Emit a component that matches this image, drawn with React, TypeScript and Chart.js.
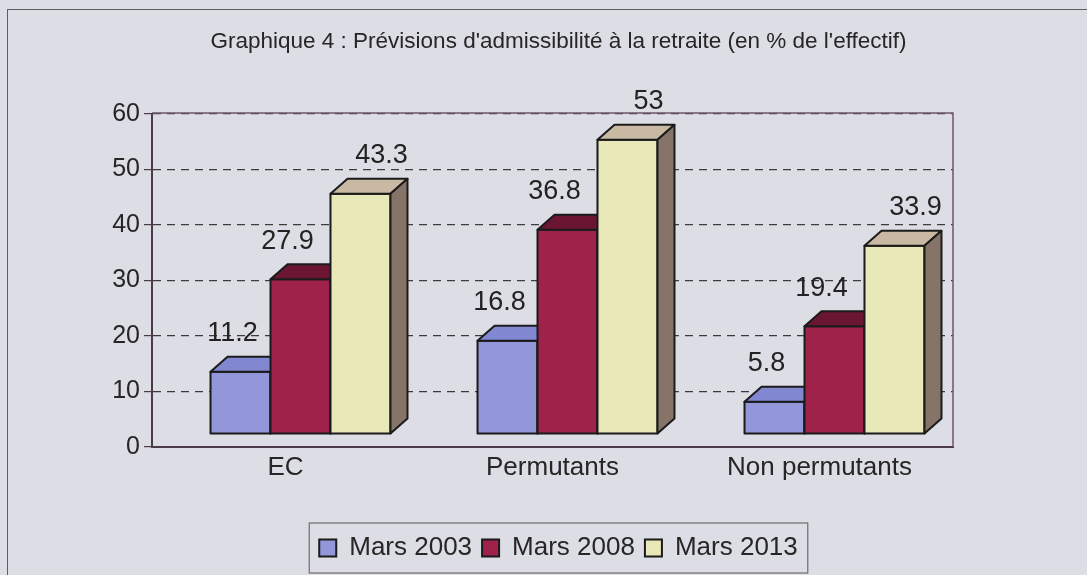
import React, { useEffect, useRef } from "react";
import { Chart, registerables } from "chart.js";

Chart.register(...registerables);

const categories = ["EC", "Permutants", "Non permutants"];
const seriesNames = ["Mars 2003", "Mars 2008", "Mars 2013"];
const mars2003 = [11.2, 16.8, 5.8];
const mars2008 = [27.9, 36.8, 19.4];
const mars2013 = [43.3, 53, 33.9];
const yMin = 0;
const yMax = 60;
const yStep = 10;
const titleText = "Graphique 4 : Prévisions d'admissibilité à la retraite (en % de l'effectif)";

const FONT = "'Liberation Sans', Arial, sans-serif";
const frontColors = ["#9496da", "#9e2249", "#e9e8b9"];
const topColors = ["#8287d2", "#6a1632", "#c9b9a2"];
const sideColors = ["#5d609f", "#4c0f24", "#877468"];
const labelDx = [-8, -13, 21];

const SHIFT_X = 15;
const SHIFT_Y = -13;
const DEPTH_X = 17;
const DEPTH_Y = -15;

const bars3d = {
  id: "bars3d",
  beforeDatasetsDraw(chart: any) {
    const ctx = chart.ctx;
    const area = chart.chartArea;
    ctx.save();
    ctx.strokeStyle = "#6a5866";
    ctx.lineWidth = 1.5;
    ctx.beginPath();
    ctx.moveTo(area.left, area.top - 1);
    ctx.lineTo(area.right, area.top - 1);
    ctx.lineTo(area.right, area.bottom);
    ctx.stroke();
    ctx.restore();

    ctx.save();
    ctx.translate(SHIFT_X, SHIFT_Y);
    ctx.lineWidth = 2;
    ctx.strokeStyle = "#1b1b1b";
    ctx.lineJoin = "round";
    const nCat = chart.data.labels.length;
    const nDs = chart.data.datasets.length;
    for (let j = 0; j < nCat; j++) {
      for (let i = 0; i < nDs; i++) {
        const el = chart.getDatasetMeta(i).data[j];
        const { x, y, base, width } = el.getProps(["x", "y", "base", "width"], true);
        const x0 = x - width / 2;
        const x1 = x + width / 2;
        ctx.fillStyle = frontColors[i];
        ctx.beginPath();
        ctx.rect(x0, y, width, base - y);
        ctx.fill();
        ctx.stroke();
        ctx.fillStyle = topColors[i];
        ctx.beginPath();
        ctx.moveTo(x0, y);
        ctx.lineTo(x1, y);
        ctx.lineTo(x1 + DEPTH_X, y + DEPTH_Y);
        ctx.lineTo(x0 + DEPTH_X, y + DEPTH_Y);
        ctx.closePath();
        ctx.fill();
        ctx.stroke();
        ctx.fillStyle = sideColors[i];
        ctx.beginPath();
        ctx.moveTo(x1, y);
        ctx.lineTo(x1 + DEPTH_X, y + DEPTH_Y);
        ctx.lineTo(x1 + DEPTH_X, base + DEPTH_Y);
        ctx.lineTo(x1, base);
        ctx.closePath();
        ctx.fill();
        ctx.stroke();
      }
    }
    ctx.fillStyle = "#222222";
    ctx.font = `27px ${FONT}`;
    ctx.textAlign = "center";
    ctx.textBaseline = "middle";
    for (let i = 0; i < nDs; i++) {
      const meta = chart.getDatasetMeta(i);
      meta.data.forEach((el: any, j: number) => {
        const { x, y } = el.getProps(["x", "y"], true);
        const v = chart.data.datasets[i].data[j];
        ctx.fillText(String(v), x + labelDx[i], y - 38);
      });
    }
    ctx.restore();
    return false;
  },
  afterDraw(chart: any) {
    const lg = chart.legend;
    if (!lg || !lg.legendHitBoxes || !lg.legendHitBoxes.length) return;
    const hb = lg.legendHitBoxes;
    let l = Infinity, r = -Infinity, t = Infinity, b = -Infinity;
    hb.forEach((h: any) => {
      l = Math.min(l, h.left);
      r = Math.max(r, h.left + h.width);
      t = Math.min(t, h.top);
      b = Math.max(b, h.top + h.height);
    });
    const cy = (t + b) / 2;
    const ctx = chart.ctx;
    ctx.save();
    ctx.strokeStyle = "#6e6e6e";
    ctx.lineWidth = 1.2;
    ctx.strokeRect(l - 10, cy - 25, r - l + 20, 50);
    ctx.restore();
  },
};

export default function App() {
  const ref = useRef<HTMLCanvasElement | null>(null);
  useEffect(() => {
    if (!ref.current) return;
    const series = [mars2003, mars2008, mars2013];
    const chart = new Chart(ref.current, {
      type: "bar",
      data: {
        labels: categories,
        datasets: series.map((d, i) => ({
          label: seriesNames[i],
          data: d,
          backgroundColor: frontColors[i],
          borderColor: "#1b1b1b",
          borderWidth: 2,
          categoryPercentage: 0.674,
          barPercentage: 1,
          yAxisID: "y",
        })),
      },
      options: {
        responsive: false,
        animation: false,
        layout: { padding: { left: 30, right: 0, top: 0, bottom: 4 } },
        plugins: {
          title: {
            display: true,
            text: titleText,
            color: "#262626",
            font: { family: FONT, size: 22.5, weight: "normal" },
            padding: { top: 28, bottom: 59 },
          },
          legend: {
            position: "bottom",
            labels: {
              color: "#262626",
              font: { family: FONT, size: 26 },
              boxWidth: 17,
              boxHeight: 17,
              padding: 10,
            },
          },
          tooltip: { enabled: false },
        },
        scales: {
          x: {
            grid: { display: false, drawTicks: false },
            border: { display: true, color: "#4b3b47", width: 2 },
            ticks: { color: "#262626", font: { family: FONT, size: 26 }, padding: 5 },
            afterFit: (s: any) => {
              s.height = 78;
            },
          },
          y: {
            min: yMin,
            max: yMax,
            ticks: { stepSize: yStep, color: "#262626", font: { family: FONT, size: 25 }, padding: 4 },
            grid: {
              color: "#3c3c3c",
              lineWidth: 1.2,
              tickLength: 8,
              tickColor: "#4b3b47",
              tickBorderDash: [],
            },
            border: { display: true, color: "#4b3b47", width: 2, dash: [8, 6] },
            afterFit: (s: any) => {
              s.width = 122;
            },
          },
          yR: {
            type: "linear",
            position: "right",
            display: true,
            ticks: { display: false },
            grid: { display: false, drawTicks: false },
            border: { display: false },
            afterFit: (s: any) => {
              s.width = 134;
            },
          },
        },
      },
      plugins: [bars3d],
    } as any);
    return () => chart.destroy();
  }, []);

  return (
    <div
      style={{
        position: "fixed",
        left: 0,
        top: 0,
        width: 1087,
        height: 575,
        overflow: "hidden",
        background: "#dcdde5",
      }}
    >
      <div
        style={{
          position: "absolute",
          left: 7,
          top: 9,
          width: 1200,
          height: 700,
          borderLeft: "1.5px solid #5e5e5e",
          borderTop: "1.5px solid #5e5e5e",
        }}
      />
      <canvas
        ref={ref}
        width={1087}
        height={575}
        style={{ position: "absolute", left: 0, top: 0 }}
      />
    </div>
  );
}
